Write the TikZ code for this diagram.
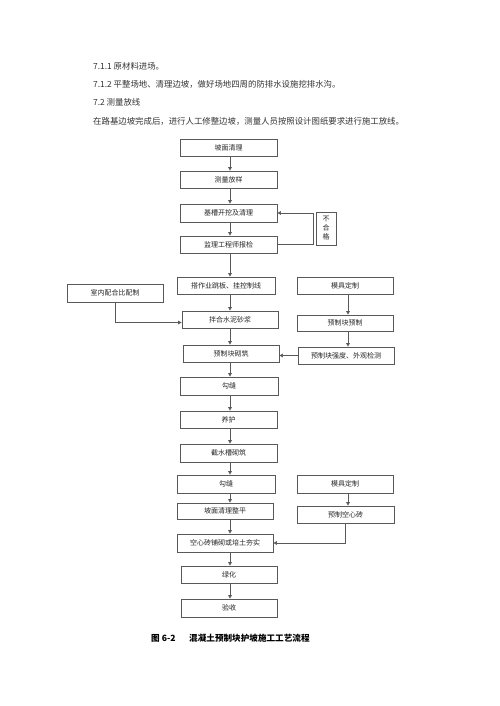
\documentclass[tikz,border=0pt]{standalone}
\usepackage{fontspec}
\setmainfont{Noto Sans CJK SC}
\usetikzlibrary{arrows.meta}
\begin{document}
\begin{tikzpicture}[x=1pt,y=-1pt,
  box/.style={draw=black!65, line width=0.7pt, minimum width=96pt, minimum height=17pt, inner sep=0pt, text=black!85, font=\fontsize{7}{8}\selectfont},
  line/.style={draw=black!65, line width=0.7pt},
  arr/.style={line, -{Triangle[length=3.6pt,width=3.6pt]}, shorten >=0pt},
  body/.style={anchor=west, inner sep=0pt, text=black!80, font=\fontsize{8.4}{10}\selectfont},
  captext/.style={anchor=west, inner sep=0pt, text=black, font=\fontsize{8.6}{10}\selectfont\bfseries}]
\useasboundingbox (0,0) rectangle (500,706);
\fill[white] (0,0) rectangle (500,706);

% text above
\node[body] (t1) at (93,66) {7.1.1 原材料进场。};
\node[body] (t2) at (93,84) {7.1.2 平整场地、清理边坡，做好场地四周的防排水设施挖排水沟。};
\node[body] (t3) at (93,102) {7.2 测量放线};
\node[body] (t4) at (93,121) {在路基边坡完成后，进行人工修整边坡，测量人员按照设计图纸要求进行施工放线。};

\coordinate (X) at (230,0);
\coordinate (R) at (348,0);

% main column
\node[box, minimum width=97pt] (b1) at (228.5,147.5) {坡面清理};
\node[box, minimum width=97pt] (b2) at (228.5,179.5) {测量放样};
\node[box, minimum width=97pt, minimum height=18pt] (b3) at (228.5,213) {基槽开挖及清理};
\node[box, minimum width=97pt] (b4) at (228.5,244.5) {监理工程师报检};
\node[box, minimum width=20pt, minimum height=33pt, align=center, font=\fontsize{7}{9}\selectfont] (ng) at (326,228.5) {不\\合\\格};
\node[box, minimum width=98pt] (b5) at (226,285.5) {搭作业跳板、挂控制线};
\node[box] (m1) at (345,285.5) {模具定制};
\node[box, minimum height=18pt] (r) at (115,293) {室内配合比配制};
\node[box] (b6) at (230,319.5) {拌合水泥砂浆};
\node[box, minimum height=16pt] (p1) at (345,323) {预制块预制};
\node[box] (b7) at (231,353.5) {预制块砌筑};
\node[box] (p2) at (346,355.5) {预制块强度、外观检测};
\node[box, minimum width=98pt, minimum height=18pt] (b8) at (229,386) {勾缝};
\node[box, minimum width=97pt] (b9) at (228.5,419.5) {养护};
\node[box, minimum width=97pt, minimum height=18pt] (b10) at (228.5,453) {截水槽砌筑};
\node[box, minimum width=98pt, minimum height=18pt] (b11) at (226,484) {勾缝};
\node[box, minimum height=18pt] (m2) at (345,484) {模具定制};
\node[box, minimum height=16pt] (b12) at (225,511) {坡面清理整平};
\node[box, minimum width=97pt] (p3) at (345.5,514.5) {预制空心砖};
\node[box, minimum height=18pt] (b13) at (225,543) {空心砖铺砌或培土夯实};
\node[box] (b14) at (229,574.5) {绿化};
\node[box, minimum height=18pt] (b15) at (229,608) {验收};

% main arrows
\foreach \a/\b in {b1/b2,b2/b3,b3/b4,b4/b5,b5/b6,b6/b7,b7/b8,b8/b9,b9/b10,b10/b11,b11/b12,b12/b13,b13/b14,b14/b15}
  \draw[arr] (\a.south -| X) -- (\b.north -| X);

% feedback loop
\draw[arr] (b4.east) -- ++(36,0) |- (b3.east);

% side inputs
\draw[arr] (r.south) |- ([yshift=-3pt]b6.west);
\draw[arr] (m1.south -| R) -- (p1.north -| R);
\draw[arr] (p1.south -| R) -- (p2.north -| R);
\draw[arr] (p2.west) -- (p2.west -| b7.east);
\draw[arr] (m2.south -| R) -- (p3.north -| R);
\draw[arr] (p3.south) |- (b13.east);

% caption
\node[captext] (c1) at (151,638) {图 6-2};
\node[captext] (c2) at (189,638) {混凝土预制块护坡施工工艺流程};
\end{tikzpicture}
\end{document}
